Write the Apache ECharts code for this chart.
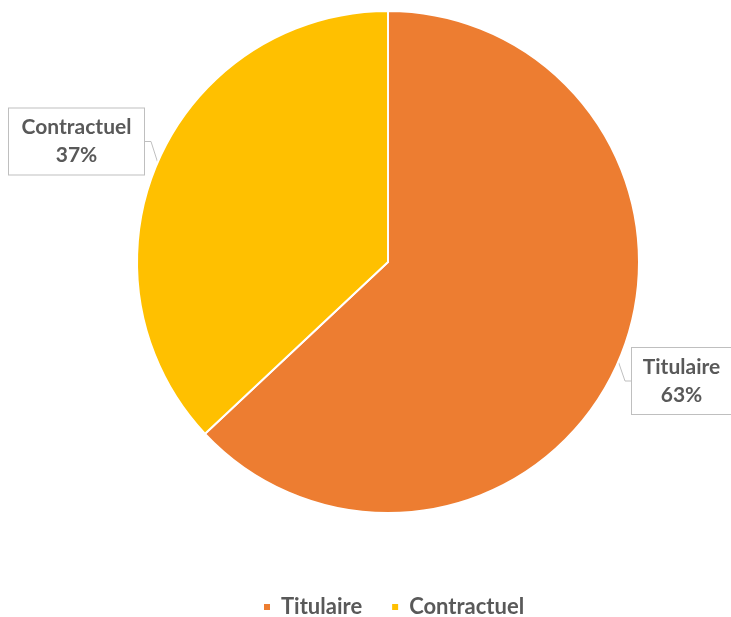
<!DOCTYPE html>
<html><head><meta charset="utf-8">
<script src="https://cdn.jsdelivr.net/npm/echarts@6/dist/echarts.min.js"></script>
<style>html,body{margin:0;padding:0;background:#fff}#c{width:731px;height:617px}</style>
</head><body><div id="c"></div>
<script>
const categories = ['Titulaire', 'Contractuel'];
const values = [63, 37];
const colors = ['#ED7D31', '#FFC000'];

const chart = echarts.init(document.getElementById('c'));
const labelPos = [[681.5, 381], [76.5, 141.5]];
const labelW = [77, 113];
const FONT = 'Lato, "Open Sans", sans-serif';
chart.setOption({
  animation: false,
  color: colors,
  legend: {
    data: categories,
    top: 591,
    left: 257,
    icon: 'rect',
    itemWidth: 8,
    itemHeight: 8,
    itemGap: 28,
    textStyle: { color: '#595959', fontSize: 22, fontWeight: 'bold', fontFamily: FONT, padding: [0, 0, 0, 5] }
  },
  series: [{
    type: 'pie',
    center: [388, 262],
    radius: 251,
    startAngle: 90,
    clockwise: true,
    data: categories.map((c, i) => ({ name: c, value: values[i], label: { width: labelW[i] } })),
    itemStyle: { borderColor: '#fff', borderWidth: 2 },
    label: {
      show: true,
      formatter: '{b}\n{d}%',
      backgroundColor: '#fff',
      borderColor: '#bfbfbf',
      borderWidth: 1,
      padding: [5, 11],
      lineHeight: 28,
      align: 'center',
      overflow: 'none',
      color: '#595959',
      fontSize: 21,
      fontWeight: 'bold',
      fontFamily: FONT
    },
    labelLine: { show: true, length: 6, length2: 6, lineStyle: { color: '#bfbfbf' } },
    labelLayout: function (p) {
      const pos = labelPos[p.dataIndex];
      return { x: pos[0], y: pos[1], align: 'center', verticalAlign: 'middle' };
    },
    emphasis: { disabled: true }
  }]
});
</script></body></html>
